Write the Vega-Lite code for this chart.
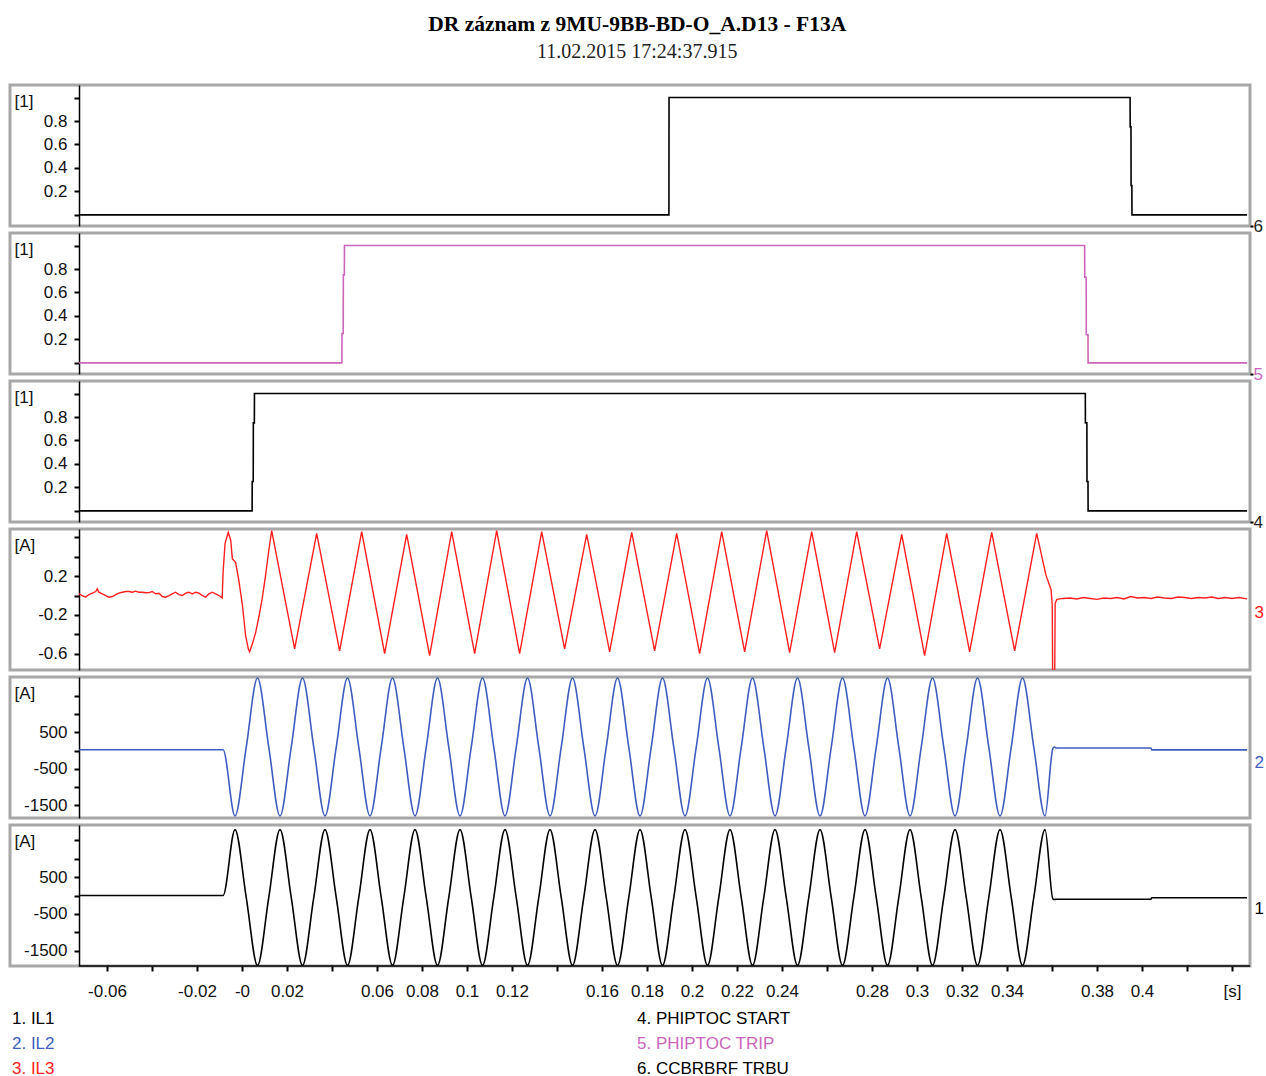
{
  "$schema": "https://vega.github.io/schema/vega-lite/v6.json",
  "padding": {"left": 8, "top": 13, "right": 0, "bottom": 0},
  "title": {"text": "DR záznam z 9MU-9BB-BD-O_A.D13 - F13A", "subtitle": "11.02.2015 17:24:37.915", "anchor": "middle", "dx": 0.5, "font": "Liberation Serif", "fontSize": 21.5, "fontWeight": "bold", "color": "#000000", "subtitleFont": "Liberation Serif", "subtitleFontSize": 20, "subtitleColor": "#222222", "subtitlePadding": 7, "offset": 21.5},
  "bounds": "flush",
  "spacing": 7,
  "datasets": {
    "ch6": [{"t":-0.0724,"v":0},{"t":0.18975,"v":0},{"t":0.1898,"v":1},{"t":0.3947,"v":1},{"t":0.39475,"v":0.75},{"t":0.3951,"v":0.75},{"t":0.39515,"v":0.25},{"t":0.3955,"v":0.25},{"t":0.39555,"v":0},{"t":0.4467,"v":0}],
    "ch5": [{"t":-0.0724,"v":0},{"t":0.0444,"v":0},{"t":0.04445,"v":0.25},{"t":0.045,"v":0.25},{"t":0.04505,"v":0.75},{"t":0.0455,"v":0.75},{"t":0.04555,"v":1},{"t":0.3745,"v":1},{"t":0.37455,"v":0.73},{"t":0.3752,"v":0.73},{"t":0.37525,"v":0.24},{"t":0.376,"v":0.24},{"t":0.37605,"v":0},{"t":0.4467,"v":0}],
    "ch4": [{"t":-0.0724,"v":0},{"t":0.0045,"v":0},{"t":0.00455,"v":0.25},{"t":0.005,"v":0.25},{"t":0.00505,"v":0.75},{"t":0.0055,"v":0.75},{"t":0.00555,"v":1},{"t":0.3748,"v":1},{"t":0.37485,"v":0.75},{"t":0.3755,"v":0.75},{"t":0.37555,"v":0.25},{"t":0.376,"v":0.25},{"t":0.37605,"v":0},{"t":0.4467,"v":0}],
    "ch3": [
      {"t":-0.0724,"v":0.017},{"t":-0.071,"v":0.0},{"t":-0.0695,"v":-0.017},{"t":-0.068,"v":0.01},{"t":-0.0665,"v":0.024},{"t":-0.065,"v":0.041},{"t":-0.0643,"v":0.069},{"t":-0.0636,"v":0.034},{"t":-0.0621,"v":0.017},{"t":-0.0606,"v":0.0},{"t":-0.0591,"v":-0.017},{"t":-0.0576,"v":-0.01},{"t":-0.0561,"v":0.01},{"t":-0.0547,"v":0.024},{"t":-0.0532,"v":0.034},{"t":-0.0517,"v":0.041},{"t":-0.0502,"v":0.041},{"t":-0.0487,"v":0.034},{"t":-0.0473,"v":0.045},{"t":-0.0458,"v":0.034},{"t":-0.0443,"v":0.034},{"t":-0.0428,"v":0.028},{"t":-0.0413,"v":0.03},{"t":-0.0399,"v":0.041},{"t":-0.0384,"v":0.017},{"t":-0.0369,"v":0.024},{"t":-0.0354,"v":-0.01},{"t":-0.0339,"v":-0.017},{"t":-0.0324,"v":0.0},{"t":-0.031,"v":0.017},{"t":-0.0295,"v":0.034},{"t":-0.028,"v":0.01},{"t":-0.0265,"v":0.0},{"t":-0.025,"v":0.024},{"t":-0.0236,"v":0.034},{"t":-0.0221,"v":0.017},{"t":-0.0206,"v":0.034},{"t":-0.0191,"v":0.024},{"t":-0.0176,"v":0.0},{"t":-0.0161,"v":-0.017},{"t":-0.0147,"v":0.017},{"t":-0.0132,"v":0.034},{"t":-0.0117,"v":0.017},{"t":-0.0102,"v":0.0},{"t":-0.0088,"v":-0.024},
      {"t":-0.0084,"v":0.24},{"t":-0.0075,"v":0.54},{"t":-0.0061,"v":0.65},{"t":-0.005,"v":0.57},{"t":-0.0043,"v":0.38},{"t":-0.0028,"v":0.34},{"t":-0.0013,"v":0.14},{"t":0.0002,"v":-0.1},{"t":0.0016,"v":-0.41},{"t":0.0028,"v":-0.55},{"t":0.0034,"v":-0.58},{"t":0.0046,"v":-0.5},{"t":0.0061,"v":-0.38},{"t":0.0076,"v":-0.21},{"t":0.009,"v":-0.03},{"t":0.0105,"v":0.21},{"t":0.012,"v":0.48},{"t":0.0132,"v":0.67},
      {"t":0.0234,"v":-0.55},{"t":0.0332,"v":0.64},{"t":0.0434,"v":-0.57},{"t":0.0532,"v":0.66},{"t":0.0634,"v":-0.6},{"t":0.0732,"v":0.63},{"t":0.0834,"v":-0.62},{"t":0.0932,"v":0.66},{"t":0.1034,"v":-0.6},{"t":0.1132,"v":0.67},{"t":0.1234,"v":-0.6},{"t":0.1332,"v":0.66},{"t":0.1434,"v":-0.55},{"t":0.1532,"v":0.63},{"t":0.1634,"v":-0.58},{"t":0.1732,"v":0.65},{"t":0.1834,"v":-0.57},{"t":0.1932,"v":0.64},{"t":0.2034,"v":-0.6},{"t":0.2132,"v":0.66},{"t":0.2234,"v":-0.58},{"t":0.2332,"v":0.67},{"t":0.2434,"v":-0.59},{"t":0.2532,"v":0.66},{"t":0.2634,"v":-0.59},{"t":0.2732,"v":0.66},{"t":0.2834,"v":-0.55},{"t":0.2932,"v":0.63},{"t":0.3034,"v":-0.62},{"t":0.3132,"v":0.64},{"t":0.3234,"v":-0.58},{"t":0.3332,"v":0.65},{"t":0.3434,"v":-0.57},{"t":0.3532,"v":0.64},
      {"t":0.3573,"v":0.21},{"t":0.3596,"v":0.06},{"t":0.3601,"v":-0.1},{"t":0.3603,"v":-0.85},{"t":0.3612,"v":-0.85},{"t":0.3614,"v":-0.08},{"t":0.3622,"v":-0.04},
      {"t":0.365,"v":-0.03},{"t":0.368,"v":-0.025},{"t":0.371,"v":-0.035},{"t":0.374,"v":-0.02},{"t":0.377,"v":-0.03},{"t":0.38,"v":-0.04},{"t":0.383,"v":-0.025},{"t":0.386,"v":-0.03},{"t":0.389,"v":-0.02},{"t":0.392,"v":-0.035},{"t":0.395,"v":-0.01},{"t":0.398,"v":-0.025},{"t":0.401,"v":-0.02},{"t":0.404,"v":-0.03},{"t":0.407,"v":-0.015},{"t":0.41,"v":-0.025},{"t":0.413,"v":-0.03},{"t":0.416,"v":-0.015},{"t":0.419,"v":-0.02},{"t":0.422,"v":-0.03},{"t":0.425,"v":-0.02},{"t":0.428,"v":-0.025},{"t":0.431,"v":-0.015},{"t":0.434,"v":-0.03},{"t":0.437,"v":-0.02},{"t":0.44,"v":-0.03},{"t":0.443,"v":-0.02},{"t":0.4467,"v":-0.035}
    ],
    "ch2": [
      {"t":-0.0724,"v":20},{"t":-0.0084,"v":20},
      {"t":-0.0031,"v":-1790},{"t":0.0019,"v":95},{"t":0.0069,"v":1980},{"t":0.0119,"v":95},
      {"t":0.0169,"v":-1790},{"t":0.0219,"v":95},{"t":0.0269,"v":1980},{"t":0.0319,"v":95},
      {"t":0.0369,"v":-1790},{"t":0.0419,"v":95},{"t":0.0469,"v":1980},{"t":0.0519,"v":95},
      {"t":0.0569,"v":-1790},{"t":0.0619,"v":95},{"t":0.0669,"v":1980},{"t":0.0719,"v":95},
      {"t":0.0769,"v":-1790},{"t":0.0819,"v":95},{"t":0.0869,"v":1980},{"t":0.0919,"v":95},
      {"t":0.0969,"v":-1790},{"t":0.1019,"v":95},{"t":0.1069,"v":1980},{"t":0.1119,"v":95},
      {"t":0.1169,"v":-1790},{"t":0.1219,"v":95},{"t":0.1269,"v":1980},{"t":0.1319,"v":95},
      {"t":0.1369,"v":-1790},{"t":0.1419,"v":95},{"t":0.1469,"v":1980},{"t":0.1519,"v":95},
      {"t":0.1569,"v":-1790},{"t":0.1619,"v":95},{"t":0.1669,"v":1980},{"t":0.1719,"v":95},
      {"t":0.1769,"v":-1790},{"t":0.1819,"v":95},{"t":0.1869,"v":1980},{"t":0.1919,"v":95},
      {"t":0.1969,"v":-1790},{"t":0.2019,"v":95},{"t":0.2069,"v":1980},{"t":0.2119,"v":95},
      {"t":0.2169,"v":-1790},{"t":0.2219,"v":95},{"t":0.2269,"v":1980},{"t":0.2319,"v":95},
      {"t":0.2369,"v":-1790},{"t":0.2419,"v":95},{"t":0.2469,"v":1980},{"t":0.2519,"v":95},
      {"t":0.2569,"v":-1790},{"t":0.2619,"v":95},{"t":0.2669,"v":1980},{"t":0.2719,"v":95},
      {"t":0.2769,"v":-1790},{"t":0.2819,"v":95},{"t":0.2869,"v":1980},{"t":0.2919,"v":95},
      {"t":0.2969,"v":-1790},{"t":0.3019,"v":95},{"t":0.3069,"v":1980},{"t":0.3119,"v":95},
      {"t":0.3169,"v":-1790},{"t":0.3219,"v":95},{"t":0.3269,"v":1980},{"t":0.3319,"v":95},
      {"t":0.3369,"v":-1790},{"t":0.3419,"v":95},{"t":0.3469,"v":1980},{"t":0.3519,"v":95},
      {"t":0.3569,"v":-1790},
      {"t":0.3604,"v":60},{"t":0.3611,"v":95},{"t":0.362,"v":70},{"t":0.404,"v":70},{"t":0.4043,"v":16},{"t":0.4467,"v":16}
    ],
    "ch1": [
      {"t":-0.0724,"v":0},{"t":-0.0084,"v":0},
      {"t":-0.0031,"v":1790},{"t":0.0019,"v":-55},{"t":0.0069,"v":-1900},{"t":0.0119,"v":-55},
      {"t":0.0169,"v":1790},{"t":0.0219,"v":-55},{"t":0.0269,"v":-1900},{"t":0.0319,"v":-55},
      {"t":0.0369,"v":1790},{"t":0.0419,"v":-55},{"t":0.0469,"v":-1900},{"t":0.0519,"v":-55},
      {"t":0.0569,"v":1790},{"t":0.0619,"v":-55},{"t":0.0669,"v":-1900},{"t":0.0719,"v":-55},
      {"t":0.0769,"v":1790},{"t":0.0819,"v":-55},{"t":0.0869,"v":-1900},{"t":0.0919,"v":-55},
      {"t":0.0969,"v":1790},{"t":0.1019,"v":-55},{"t":0.1069,"v":-1900},{"t":0.1119,"v":-55},
      {"t":0.1169,"v":1790},{"t":0.1219,"v":-55},{"t":0.1269,"v":-1900},{"t":0.1319,"v":-55},
      {"t":0.1369,"v":1790},{"t":0.1419,"v":-55},{"t":0.1469,"v":-1900},{"t":0.1519,"v":-55},
      {"t":0.1569,"v":1790},{"t":0.1619,"v":-55},{"t":0.1669,"v":-1900},{"t":0.1719,"v":-55},
      {"t":0.1769,"v":1790},{"t":0.1819,"v":-55},{"t":0.1869,"v":-1900},{"t":0.1919,"v":-55},
      {"t":0.1969,"v":1790},{"t":0.2019,"v":-55},{"t":0.2069,"v":-1900},{"t":0.2119,"v":-55},
      {"t":0.2169,"v":1790},{"t":0.2219,"v":-55},{"t":0.2269,"v":-1900},{"t":0.2319,"v":-55},
      {"t":0.2369,"v":1790},{"t":0.2419,"v":-55},{"t":0.2469,"v":-1900},{"t":0.2519,"v":-55},
      {"t":0.2569,"v":1790},{"t":0.2619,"v":-55},{"t":0.2669,"v":-1900},{"t":0.2719,"v":-55},
      {"t":0.2769,"v":1790},{"t":0.2819,"v":-55},{"t":0.2869,"v":-1900},{"t":0.2919,"v":-55},
      {"t":0.2969,"v":1790},{"t":0.3019,"v":-55},{"t":0.3069,"v":-1900},{"t":0.3119,"v":-55},
      {"t":0.3169,"v":1790},{"t":0.3219,"v":-55},{"t":0.3269,"v":-1900},{"t":0.3319,"v":-55},
      {"t":0.3369,"v":1790},{"t":0.3419,"v":-55},{"t":0.3469,"v":-1900},{"t":0.3519,"v":-55},
      {"t":0.3569,"v":1790},
      {"t":0.3604,"v":-90},{"t":0.3612,"v":-110},{"t":0.362,"v":-100},{"t":0.404,"v":-100},{"t":0.4043,"v":-60},{"t":0.4467,"v":-60}
    ]
  },
  "vconcat": [
    {
      "width": 1240, "height": 141,
      "layer": [
        {"data": {"name": "ch6"}, "mark": {"type": "line", "clip": true, "strokeWidth": 1.6},
         "encoding": {
           "x": {"field": "t", "type": "quantitative", "scale": {"domain": [-0.1031, 0.448], "nice": false, "zero": false}, "axis": null},
           "y": {"field": "v", "type": "quantitative", "scale": {"domain": [-0.095, 1.107], "nice": false, "zero": false},
                 "axis": {"orient": "left", "offset": -69, "values": [0,0.2,0.4,0.6,0.8,1], "format": ".1f", "labelExpr": "datum.value == 0 || datum.value == 1 ? '' : datum.label", "title": "[1]", "tickSize": 5, "tickWidth": 2, "labelPadding": 7, "domainWidth": 1.5, "titleAngle": 0, "titleAlign": "left", "titleBaseline": "middle", "titleX": -65, "titleY": 16}},
           "color": {"datum": "6. CCBRBRF TRBU", "type": "nominal",
                     "scale": {"domain": ["1. IL1","2. IL2","3. IL3","4. PHIPTOC START","5. PHIPTOC TRIP","6. CCBRBRF TRBU"], "range": ["#000000","#3f5dbf","#ff2020","#000000","#cc66bb","#000000"]},
                     "legend": {"orient": "none", "legendX": 4, "legendY": 925.5, "columns": 2, "direction": "vertical", "title": null, "symbolSize": 0, "symbolOpacity": 0, "symbolStrokeWidth": 0, "labelFont": "Liberation Sans", "labelFontSize": 17, "labelOffset": -19, "labelLimit": 400, "rowPadding": 7, "columnPadding": 471, "gridAlign": "all", "padding": 0, "encode": {"labels": {"update": {"fill": {"signal": "scale('color', datum.value)"}}}}}}
         }},
        {"data": {"values": [{}]}, "mark": {"type": "point", "opacity": 0},
         "encoding": {
           "x": {"datum": 0, "type": "quantitative", "scale": {"domain": [-0.1031, 0.448], "nice": false, "zero": false}, "axis": null},
           "y": {"datum": 0, "type": "quantitative", "scale": {"domain": [-0.095, 1.107], "nice": false, "zero": false},
                 "axis": {"orient": "right", "values": [-0.095], "labelExpr": "'6'", "domain": false, "tickSize": 3, "tickWidth": 2, "labelPadding": 0, "title": null, "labelColor": "#222222"}}
         }}
      ],
      "resolve": {"scale": {"y": "independent"}}
    },
    {
      "width": 1240, "height": 141,
      "layer": [
        {"data": {"name": "ch5"}, "mark": {"type": "line", "clip": true, "strokeWidth": 1.6},
         "encoding": {
           "x": {"field": "t", "type": "quantitative", "scale": {"domain": [-0.1031, 0.448], "nice": false, "zero": false}, "axis": null},
           "y": {"field": "v", "type": "quantitative", "scale": {"domain": [-0.095, 1.107], "nice": false, "zero": false},
                 "axis": {"orient": "left", "offset": -69, "values": [0,0.2,0.4,0.6,0.8,1], "format": ".1f", "labelExpr": "datum.value == 0 || datum.value == 1 ? '' : datum.label", "title": "[1]", "tickSize": 5, "tickWidth": 2, "labelPadding": 7, "domainWidth": 1.5, "titleAngle": 0, "titleAlign": "left", "titleBaseline": "middle", "titleX": -65, "titleY": 16}},
           "color": {"datum": "5. PHIPTOC TRIP", "type": "nominal",
                     "scale": {"domain": ["1. IL1","2. IL2","3. IL3","4. PHIPTOC START","5. PHIPTOC TRIP","6. CCBRBRF TRBU"], "range": ["#000000","#3f5dbf","#ff2020","#000000","#cc66bb","#000000"]}}
         }},
        {"data": {"values": [{}]}, "mark": {"type": "point", "opacity": 0},
         "encoding": {
           "x": {"datum": 0, "type": "quantitative", "scale": {"domain": [-0.1031, 0.448], "nice": false, "zero": false}, "axis": null},
           "y": {"datum": 0, "type": "quantitative", "scale": {"domain": [-0.095, 1.107], "nice": false, "zero": false},
                 "axis": {"orient": "right", "values": [-0.095], "labelExpr": "'5'", "domain": false, "tickSize": 3, "tickWidth": 2, "labelPadding": 0, "title": null, "labelColor": "#cc66bb"}}
         }}
      ],
      "resolve": {"scale": {"y": "independent"}}
    },
    {
      "width": 1240, "height": 141,
      "layer": [
        {"data": {"name": "ch4"}, "mark": {"type": "line", "clip": true, "strokeWidth": 1.6},
         "encoding": {
           "x": {"field": "t", "type": "quantitative", "scale": {"domain": [-0.1031, 0.448], "nice": false, "zero": false}, "axis": null},
           "y": {"field": "v", "type": "quantitative", "scale": {"domain": [-0.095, 1.107], "nice": false, "zero": false},
                 "axis": {"orient": "left", "offset": -69, "values": [0,0.2,0.4,0.6,0.8,1], "format": ".1f", "labelExpr": "datum.value == 0 || datum.value == 1 ? '' : datum.label", "title": "[1]", "tickSize": 5, "tickWidth": 2, "labelPadding": 7, "domainWidth": 1.5, "titleAngle": 0, "titleAlign": "left", "titleBaseline": "middle", "titleX": -65, "titleY": 16}},
           "color": {"datum": "4. PHIPTOC START", "type": "nominal",
                     "scale": {"domain": ["1. IL1","2. IL2","3. IL3","4. PHIPTOC START","5. PHIPTOC TRIP","6. CCBRBRF TRBU"], "range": ["#000000","#3f5dbf","#ff2020","#000000","#cc66bb","#000000"]}}
         }},
        {"data": {"values": [{}]}, "mark": {"type": "point", "opacity": 0},
         "encoding": {
           "x": {"datum": 0, "type": "quantitative", "scale": {"domain": [-0.1031, 0.448], "nice": false, "zero": false}, "axis": null},
           "y": {"datum": 0, "type": "quantitative", "scale": {"domain": [-0.095, 1.107], "nice": false, "zero": false},
                 "axis": {"orient": "right", "values": [-0.095], "labelExpr": "'4'", "domain": false, "tickSize": 3, "tickWidth": 2, "labelPadding": 0, "title": null, "labelColor": "#222222"}}
         }}
      ],
      "resolve": {"scale": {"y": "independent"}}
    },
    {
      "width": 1240, "height": 141,
      "layer": [
        {"data": {"name": "ch3"}, "mark": {"type": "line", "clip": true, "strokeWidth": 1.4},
         "encoding": {
           "x": {"field": "t", "type": "quantitative", "scale": {"domain": [-0.1031, 0.448], "nice": false, "zero": false}, "axis": null},
           "y": {"field": "v", "type": "quantitative", "scale": {"domain": [-0.768, 0.686], "nice": false, "zero": false},
                 "axis": {"orient": "left", "offset": -69, "values": [-0.6,-0.4,-0.2,0,0.2,0.4,0.6], "labelExpr": "datum.value == 0.2 ? '0.2' : datum.value == -0.2 ? '-0.2' : datum.value == -0.6 ? '-0.6' : ''", "title": "[A]", "tickSize": 5, "tickWidth": 2, "labelPadding": 7, "domainWidth": 1.5, "titleAngle": 0, "titleAlign": "left", "titleBaseline": "middle", "titleX": -65, "titleY": 16}},
           "color": {"datum": "3. IL3", "type": "nominal",
                     "scale": {"domain": ["1. IL1","2. IL2","3. IL3","4. PHIPTOC START","5. PHIPTOC TRIP","6. CCBRBRF TRBU"], "range": ["#000000","#3f5dbf","#ff2020","#000000","#cc66bb","#000000"]}}
         }},
        {"data": {"values": [{}]}, "mark": {"type": "point", "opacity": 0},
         "encoding": {
           "x": {"datum": 0, "type": "quantitative", "scale": {"domain": [-0.1031, 0.448], "nice": false, "zero": false}, "axis": null},
           "y": {"datum": 0, "type": "quantitative", "scale": {"domain": [-0.768, 0.686], "nice": false, "zero": false},
                 "axis": {"orient": "right", "values": [-0.175], "labelExpr": "'3'", "domain": false, "ticks": false, "tickSize": 0, "labelPadding": 4, "title": null, "labelColor": "#ff2020"}}
         }}
      ],
      "resolve": {"scale": {"y": "independent"}}
    },
    {
      "width": 1240, "height": 141,
      "layer": [
        {"data": {"name": "ch2"}, "mark": {"type": "line", "clip": true, "strokeWidth": 1.6, "interpolate": "monotone"},
         "encoding": {
           "x": {"field": "t", "type": "quantitative", "scale": {"domain": [-0.1031, 0.448], "nice": false, "zero": false}, "axis": null},
           "y": {"field": "v", "type": "quantitative", "scale": {"domain": [-1844, 2008], "nice": false, "zero": false},
                 "axis": {"orient": "left", "offset": -69, "values": [-1500,-1000,-500,0,500,1000,1500], "labelExpr": "datum.value == 500 ? '500' : datum.value == -500 ? '-500' : datum.value == -1500 ? '-1500' : ''", "title": "[A]", "tickSize": 5, "tickWidth": 2, "labelPadding": 7, "domainWidth": 1.5, "titleAngle": 0, "titleAlign": "left", "titleBaseline": "middle", "titleX": -65, "titleY": 16}},
           "color": {"datum": "2. IL2", "type": "nominal",
                     "scale": {"domain": ["1. IL1","2. IL2","3. IL3","4. PHIPTOC START","5. PHIPTOC TRIP","6. CCBRBRF TRBU"], "range": ["#000000","#3f5dbf","#ff2020","#000000","#cc66bb","#000000"]}}
         }},
        {"data": {"values": [{}]}, "mark": {"type": "point", "opacity": 0},
         "encoding": {
           "x": {"datum": 0, "type": "quantitative", "scale": {"domain": [-0.1031, 0.448], "nice": false, "zero": false}, "axis": null},
           "y": {"datum": 0, "type": "quantitative", "scale": {"domain": [-1844, 2008], "nice": false, "zero": false},
                 "axis": {"orient": "right", "values": [-328], "labelExpr": "'2'", "domain": false, "ticks": false, "tickSize": 0, "labelPadding": 4, "title": null, "labelColor": "#3f5dbf"}}
         }}
      ],
      "resolve": {"scale": {"y": "independent"}}
    },
    {
      "width": 1240, "height": 141,
      "layer": [
        {"data": {"name": "ch1"}, "mark": {"type": "line", "clip": true, "strokeWidth": 1.6, "interpolate": "monotone"},
         "encoding": {
           "x": {"field": "t", "type": "quantitative", "scale": {"domain": [-0.1031, 0.448], "nice": false, "zero": false},
                 "axis": {"values": [-0.06,-0.04,-0.02,0,0.02,0.04,0.06,0.08,0.1,0.12,0.14,0.16,0.18,0.2,0.22,0.24,0.26,0.28,0.3,0.32,0.34,0.36,0.38,0.4,0.42,0.44], "format": "~g", "labelExpr": "datum.value == 0 ? '-0' : datum.value == 0.44 ? '[s]' : (datum.value == -0.04 || datum.value == 0.04 || datum.value == 0.14 || datum.value == 0.26 || datum.value == 0.36 || datum.value == 0.42) ? '' : replace(datum.label, '\u2212', '-')", "domain": false, "tickSize": 5, "tickWidth": 2, "labelPadding": 12.5, "title": null, "labelOverlap": false, "labelFlush": false}},
           "y": {"field": "v", "type": "quantitative", "scale": {"domain": [-1916, 1916], "nice": false, "zero": false},
                 "axis": {"orient": "left", "offset": -69, "values": [-1500,-1000,-500,0,500,1000,1500], "labelExpr": "datum.value == 500 ? '500' : datum.value == -500 ? '-500' : datum.value == -1500 ? '-1500' : ''", "title": "[A]", "tickSize": 5, "tickWidth": 2, "labelPadding": 7, "domainWidth": 1.5, "titleAngle": 0, "titleAlign": "left", "titleBaseline": "middle", "titleX": -65, "titleY": 16}},
           "color": {"datum": "1. IL1", "type": "nominal",
                     "scale": {"domain": ["1. IL1","2. IL2","3. IL3","4. PHIPTOC START","5. PHIPTOC TRIP","6. CCBRBRF TRBU"], "range": ["#000000","#3f5dbf","#ff2020","#000000","#cc66bb","#000000"]}}
         }},
        {"data": {"values": [{}]}, "mark": {"type": "point", "opacity": 0},
         "encoding": {
           "x": {"datum": 0, "type": "quantitative", "scale": {"domain": [-0.1031, 0.448], "nice": false, "zero": false}},
           "y": {"datum": 0, "type": "quantitative", "scale": {"domain": [-1916, 1916], "nice": false, "zero": false},
                 "axis": {"orient": "right", "values": [-353], "labelExpr": "'1'", "domain": false, "ticks": false, "tickSize": 0, "labelPadding": 4, "title": null, "labelColor": "#000000"}}
         }},
        {"data": {"values": [{}]}, "mark": {"type": "rule", "color": "#000000", "strokeWidth": 1.5},
         "encoding": {
           "x": {"datum": -0.0724, "type": "quantitative", "scale": {"domain": [-0.1031, 0.448], "nice": false, "zero": false}},
           "x2": {"datum": 0.448},
           "y": {"datum": -1916, "type": "quantitative", "scale": {"domain": [-1916, 1916], "nice": false, "zero": false}, "axis": null}
         }}
      ],
      "resolve": {"scale": {"y": "independent"}}
    }
  ],
  "config": {
    "view": {"stroke": "#a8a8a8", "strokeWidth": 3},
    "axis": {"labelFont": "Liberation Sans", "labelFontSize": 17, "labelColor": "#111111", "grid": false, "tickColor": "#000000", "domainColor": "#000000", "titleFont": "Liberation Sans", "titleFontWeight": "normal", "titleFontSize": 17, "titleColor": "#111111"}
  }
}
